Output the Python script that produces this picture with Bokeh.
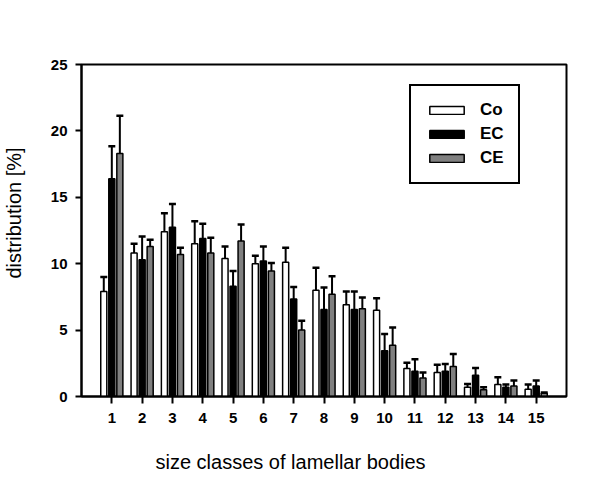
from bokeh.plotting import figure
from bokeh.models import Range1d, FixedTicker, Legend, LegendItem, ColumnDataSource, Title
from bokeh.embed import file_html
from bokeh.resources import INLINE

classes = list(range(1, 16))
tick_labels = [str(c) for c in classes]
x_title = "size classes of lamellar bodies"
y_title = "distribution [%]"

co = [7.9, 10.8, 12.4, 11.5, 10.4, 10.0, 10.1, 8.0, 6.9, 6.5, 2.1, 1.8, 0.7, 0.9, 0.55]
co_sd = [1.1, 0.7, 1.4, 1.7, 0.9, 0.6, 1.1, 1.7, 1.0, 0.9, 0.45, 0.6, 0.25, 0.55, 0.35]
ec = [16.4, 10.3, 12.75, 11.9, 8.3, 10.2, 7.35, 6.55, 6.55, 3.45, 1.9, 1.9, 1.6, 0.7, 0.8]
ec_sd = [2.45, 1.75, 1.75, 1.1, 1.15, 1.1, 0.9, 1.65, 1.35, 1.25, 0.9, 0.55, 0.55, 0.2, 0.4]
ce = [18.3, 11.3, 10.7, 10.8, 11.7, 9.45, 5.0, 7.7, 6.6, 3.85, 1.4, 2.25, 0.5, 0.8, 0.25]
ce_sd = [2.85, 0.5, 0.5, 1.15, 1.25, 0.6, 0.7, 1.35, 0.85, 1.35, 0.4, 0.95, 0.2, 0.4, 0.05]

series = [("Co", co, co_sd, "white", -0.265),
          ("EC", ec, ec_sd, "black", 0.0),
          ("CE", ce, ce_sd, "#808080", 0.265)]

FONT = "Liberation Sans"

p = figure(width=590, height=479, output_backend="svg", toolbar_location=None,
           x_range=Range1d(0, 16), y_range=Range1d(0, 25),
           min_border_left=81, min_border_right=24, min_border_top=64, min_border_bottom=83)
p.background_fill_color = "white"
p.border_fill_color = "white"
p.outline_line_color = "black"
p.outline_line_alpha = 1
p.outline_line_width = 2
p.xgrid.visible = False
p.ygrid.visible = False

items = []
bar_w = 0.2
cap_w = 0.23
for name, vals, sds, color, off in series:
    xs = [c + off for c in classes]
    tops = [v + s for v, s in zip(vals, sds)]
    src = ColumnDataSource(dict(x=xs, y=vals, top=tops,
                                x0=[x - cap_w / 2 for x in xs],
                                x1=[x + cap_w / 2 for x in xs]))
    p.segment(x0="x", y0="y", x1="x", y1="top", source=src, line_color="black", line_width=2)
    p.segment(x0="x0", y0="top", x1="x1", y1="top", source=src, line_color="black", line_width=2.5)
    r = p.vbar(x="x", top="y", width=bar_w, source=src, fill_color=color,
               line_color="black", line_width=1.5)
    items.append(LegendItem(label=name, renderers=[r]))

legend = Legend(items=items, location=(328, 212), margin=0, padding=14, spacing=4,
                glyph_width=43, glyph_height=10, label_standoff=12,
                label_text_font=FONT, label_text_font_style="bold", label_text_font_size="17px",
                label_text_color="black",
                label_height=20, border_line_color="black", border_line_alpha=1, border_line_width=2,
                background_fill_color="white", background_fill_alpha=1)
p.add_layout(legend, "center")

for ax in (p.xaxis[0], p.yaxis[0]):
    ax.major_tick_in = 0
    ax.minor_tick_out = 0
    ax.minor_tick_in = 0
    ax.axis_line_width = 2
    ax.axis_line_color = "black"
    ax.major_tick_line_width = 2
    ax.major_tick_line_color = "black"
    ax.major_label_text_font = FONT
    ax.major_label_text_font_style = "bold"
    ax.major_label_text_font_size = "15px"
    ax.major_label_text_color = "black"

xa = p.xaxis[0]
xa.ticker = FixedTicker(ticks=classes)
xa.major_label_overrides = {c: t for c, t in zip(classes, tick_labels)}
xa.major_tick_out = 7
xa.major_label_standoff = 9

ya = p.yaxis[0]
ya.ticker = FixedTicker(ticks=[0, 5, 10, 15, 20, 25])
ya.major_tick_out = 6
ya.major_label_standoff = 8

p.add_layout(Title(text="\n" + x_title, align="left", offset=74, standoff=2,
                   text_font=FONT, text_font_size="20px", text_font_style="normal",
                   text_color="black"), "below")
p.add_layout(Title(text=y_title + "\n", align="left", offset=118, standoff=1,
                   text_font=FONT, text_font_size="20px", text_font_style="normal",
                   text_color="black"), "left")

open("out.html", "w").write(file_html(p, INLINE))
